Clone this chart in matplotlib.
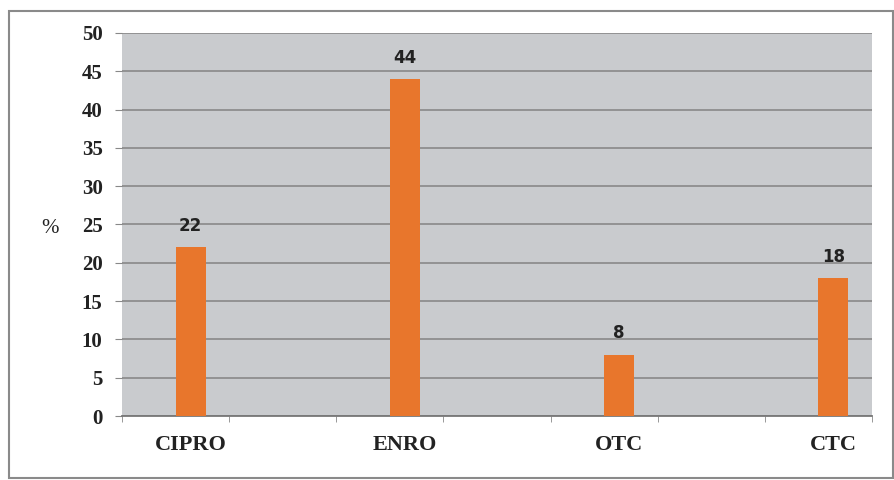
import numpy as np
import matplotlib.pyplot as plt
from matplotlib.patches import Rectangle

# data
drugs = ['CIPRO', 'ENRO', 'OTC', 'CTC']
percent = [22, 44, 8, 18]
slots = [0, 2, 4, 6]   # category slot of each drug (7 slots on the axis)

bar_col = '#e8762c'
bg_col = '#c9cbce'
grid_col = '#8e8e8e'

fig = plt.figure(figsize=(8.95, 4.8), dpi=100)
ax = fig.add_axes([0.1363, 0.1333, 0.8380, 0.7980])
ax.set_facecolor(bg_col)

# bars start at the middle of their slot
x = np.array(slots) + 0.5
w = 0.28
ax.bar(x, percent, width=w, align='edge', color=bar_col, zorder=3)
for xi, v in zip(x, percent):
    ax.text(xi + w / 2, v + 1.6, str(v), ha='center', va='bottom',
            fontsize=12, fontweight='bold', family='DejaVu Sans', color='#222222')

ax.set_xlim(0, 7)
ax.set_ylim(0, 50)
ax.set_yticks(np.arange(0, 51, 5))
ax.yaxis.grid(True, color=grid_col, linewidth=1.3, zorder=1)
ax.set_axisbelow(True)

# slot boundaries get tick marks, names go under the bars
ax.set_xticks(np.arange(0, 8), minor=True)
ax.set_xticks(x + w / 2)
ax.set_xticklabels(drugs, fontsize=16, fontweight='bold', family='Liberation Serif', color='#222222')
ax.tick_params(axis='x', which='major', length=0, pad=14)
ax.tick_params(axis='x', which='minor', length=4, color='#888888', direction='out')
ax.tick_params(axis='y', length=5, color='#888888', pad=9)
for lab in ax.get_yticklabels():
    lab.set_fontsize(15)
    lab.set_fontweight('bold')
    lab.set_family('Liberation Serif')
    lab.set_color('#222222')

for s in ['top', 'right', 'left']:
    ax.spines[s].set_visible(False)
ax.spines['bottom'].set_color('#777777')
ax.spines['bottom'].set_linewidth(1.3)

ax.set_ylabel('%', rotation=0, fontsize=15, family='Liberation Serif',
              color='#222222', va='center')
ax.yaxis.set_label_coords(-0.096, 0.49)

# outer frame
fig.patches.append(Rectangle((9 / 895, 2 / 480), 884 / 895, 467 / 480,
                             transform=fig.transFigure, fill=False,
                             edgecolor='#8a8a8a', linewidth=1.5))

plt.savefig('out.png', dpi=100)
